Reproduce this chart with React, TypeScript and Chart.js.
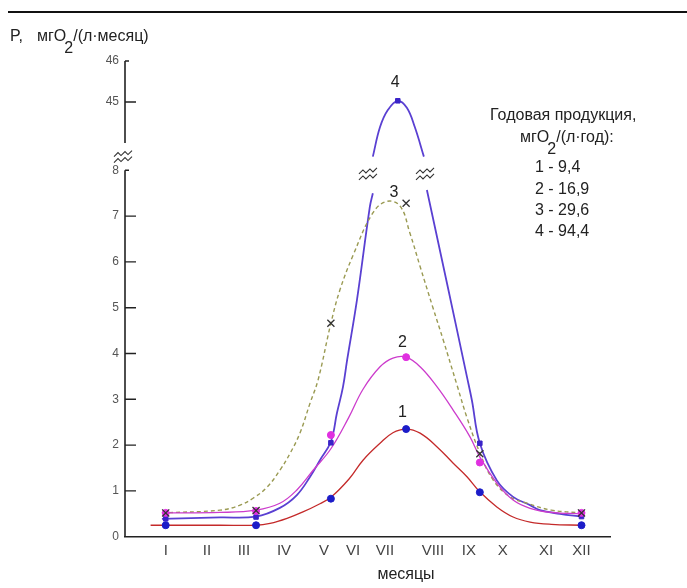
import React, { useEffect, useRef } from "react";
import { Chart, registerables } from "chart.js";

Chart.register(...registerables);

// ---------- data ----------
const monthLabels = ["I", "II", "III", "IV", "V", "VI", "VII", "VIII", "IX", "X", "XI", "XII"];
const monthTicks = [1, 2.09, 3.07, 4.13, 5.19, 5.96, 6.8, 8.07, 9.02, 9.92, 11.06, 12.0];
const yTickValues = [0, 1, 2, 3, 4, 5, 6, 7, 8, 45, 46];

const curve1Months = [0.6, 1.0, 2.44, 3.39, 3.76, 4.21, 4.63, 5.08, 5.37, 5.85, 6.22, 6.67, 7.01, 7.36, 7.73, 8.18, 8.6, 8.97, 9.31, 9.76, 10.19, 10.64, 11.2, 12.0];
const curve1Values = [0.25, 0.25, 0.25, 0.25, 0.29, 0.4, 0.54, 0.72, 0.86, 1.26, 1.67, 2.04, 2.27, 2.35, 2.26, 1.96, 1.61, 1.31, 0.98, 0.65, 0.43, 0.32, 0.27, 0.25];

const curve2Months = [0.9, 2.44, 3.39, 4.02, 4.47, 4.9, 5.37, 5.84, 6.22, 6.67, 7.01, 7.36, 7.73, 8.18, 8.6, 9.05, 9.31, 9.76, 10.19, 10.64, 11.2, 12.0];
const curve2Values = [0.52, 0.53, 0.58, 0.73, 1.02, 1.45, 1.92, 2.6, 3.22, 3.71, 3.9, 3.92, 3.71, 3.27, 2.77, 2.18, 1.74, 1.17, 0.8, 0.62, 0.53, 0.5];

const curve3Months = [0.9, 2.44, 2.97, 3.31, 3.68, 4.02, 4.29, 4.55, 4.82, 5.03, 5.37, 5.61, 5.96, 6.48, 6.85, 7.2, 7.46, 7.73, 8.07, 8.34, 8.71, 8.97, 9.31, 9.66, 10.11, 10.56, 11.2, 12.0];
const curve3Values = [0.52, 0.58, 0.69, 0.84, 1.08, 1.45, 1.82, 2.26, 2.92, 3.42, 4.66, 5.39, 6.15, 7.07, 7.32, 7.22, 6.63, 5.9, 5.0, 4.3, 3.3, 2.6, 1.83, 1.24, 0.87, 0.73, 0.58, 0.52];

// curve 4 is broken: lower part, gap, upper part (45 scale), gap, lower part
const curve4Months = [0.9, 2.44, 3.39, 4.02, 4.47, 4.82, 5.08, 5.37, 5.53, 5.69, 5.8, 6.06, 6.4, 6.48, 6.48, 6.48, 6.67, 6.88, 7.14, 7.38, 7.59, 7.83, 7.87, 7.91, 8.44, 8.97, 9.1, 9.31, 9.76, 10.19, 10.64, 10.9, 11.43, 12.0];
const curve4Values = [0.39, 0.42, 0.44, 0.63, 0.91, 1.31, 1.67, 2.08, 2.7, 3.27, 3.86, 5.17, 7.2, 7.5, null, 43.67, 44.39, 44.81, 45.03, 44.86, 44.39, 43.67, null, 7.57, 5.54, 3.49, 2.98, 2.04, 1.23, 0.87, 0.69, 0.58, 0.5, 0.44];

const markerMonths = [1.0, 3.39, 5.37, 7.36, 9.31, 12.0];
const marker1Values = [0.25, 0.25, 0.83, 2.35, 0.97, 0.25];
const marker2Values = [0.52, 0.56, 2.22, 3.92, 1.62, 0.52];
const marker3Values = [0.52, 0.57, 4.66, 7.28, 1.81, 0.52];
const marker4Months = [1.0, 3.39, 5.37, 7.14, 9.31, 12.0];
const marker4Values = [0.39, 0.43, 2.05, 45.03, 2.04, 0.44];

const legendTitle = "Годовая продукция,";
const legendItems = ["1 - 9,4", "2 - 16,9", "3 - 29,6", "4 - 94,4"];

// ---------- broken y axis mapping ----------
const LOWER_TOP = 8;
const UPPER_REF = 45;
const UPPER_REF_POS = 9.49;
const UPPER_UNIT = 0.896;
const toAxis = (v: number) => (v <= LOWER_TOP ? v : UPPER_REF_POS + (v - UPPER_REF) * UPPER_UNIT);

const pts = (months: number[], values: (number | null)[]) =>
  months.map((m, i) => ({ x: m, y: values[i] == null ? null : toAxis(values[i] as number) }));

const FONT = "'Liberation Sans', Arial, sans-serif";

const lineDs = (label: string, months: number[], values: (number | null)[], color: string, width: number, dash: number[] = []) => ({
  type: "line" as const,
  label,
  data: pts(months, values),
  borderColor: color,
  backgroundColor: color,
  borderWidth: width,
  borderDash: dash,
  pointRadius: 0,
  tension: 0.4,
  spanGaps: false,
  fill: false,
  order: 3,
});

const markerDs = (label: string, months: number[], values: number[], style: string, color: string, radius: number, bw: number, order: number) => ({
  type: "line" as const,
  label,
  data: pts(months, values),
  showLine: false,
  pointStyle: style,
  pointRadius: radius,
  pointBackgroundColor: color,
  pointBorderColor: color,
  pointBorderWidth: bw,
  order,
});

const decorPlugin = {
  id: "decor",
  afterDraw(chart: any) {
    const ctx: CanvasRenderingContext2D = chart.ctx;
    const xs = chart.scales.x;
    const ys = chart.scales.y;
    const X = (m: number) => xs.getPixelForValue(m);
    const Y = (v: number) => ys.getPixelForValue(toAxis(v));
    const YA = (a: number) => ys.getPixelForValue(a);
    ctx.save();

    // top rule
    ctx.strokeStyle = "#111";
    ctx.lineWidth = 2;
    ctx.beginPath();
    ctx.moveTo(8, 12);
    ctx.lineTo(chart.width, 12);
    ctx.stroke();

    // broken y axis
    const x0 = chart.chartArea.left;
    ctx.strokeStyle = "#222";
    ctx.lineWidth = 1.6;
    ctx.beginPath();
    ctx.moveTo(x0, Y(0));
    ctx.lineTo(x0, Y(8));
    ctx.moveTo(x0, Y(44));
    ctx.lineTo(x0, Y(46));
    ctx.stroke();
    ctx.lineWidth = 1.4;
    ctx.beginPath();
    for (const v of yTickValues) {
      if (v === 0) continue;
      const len = v === 8 || v === 46 ? 4 : 11;
      ctx.moveTo(x0, Y(v));
      ctx.lineTo(x0 + len, Y(v));
    }
    ctx.stroke();

    const drawBreak = (cx: number, cy: number) => {
      ctx.strokeStyle = "#333";
      ctx.lineWidth = 1.1;
      for (const dy of [-3, 3]) {
        ctx.beginPath();
        ctx.moveTo(cx - 9, cy + dy + 3);
        ctx.lineTo(cx - 5, cy + dy - 1);
        ctx.lineTo(cx - 2, cy + dy + 2);
        ctx.lineTo(cx + 2, cy + dy - 2);
        ctx.lineTo(cx + 5, cy + dy + 1);
        ctx.lineTo(cx + 9, cy + dy - 3);
        ctx.stroke();
      }
    };
    drawBreak(x0 - 2, YA(8.3));
    drawBreak(X(6.35), YA(7.92));
    drawBreak(X(7.86), YA(7.92));

    // texts
    ctx.fillStyle = "#222";
    ctx.textBaseline = "alphabetic";
    ctx.textAlign = "left";
    ctx.font = `16px ${FONT}`;
    const chem = (x: number, y: number, pre: string, sub: string, post: string) => {
      ctx.fillText(pre, x, y);
      let cx = x + ctx.measureText(pre).width - 2;
      ctx.fillText(sub, cx, y + 12);
      cx += ctx.measureText(sub).width;
      ctx.fillText(post, cx, y);
    };
    ctx.fillText("P,", 10, 41);
    chem(37, 41, "мгO", "2", "/(л·месяц)");

    ctx.fillText(legendTitle, 490, 120);
    chem(520, 142, "мгO", "2", "/(л·год):");
    ctx.textBaseline = "middle";
    legendItems.forEach((t, i) => ctx.fillText(t, 535, 168 + i * 21.3));

    // curve numbers
    ctx.textAlign = "center";
    ctx.fillText("4", X(7.07), YA(9.91));
    ctx.fillText("3", X(7.04), YA(7.52));
    ctx.fillText("2", X(7.26), YA(4.23));
    ctx.fillText("1", X(7.26), YA(2.7));

    // x axis title
    ctx.fillText("месяцы", 406, 575);
    ctx.restore();
  },
};

export default function App() {
  const ref = useRef<HTMLCanvasElement | null>(null);

  useEffect(() => {
    if (!ref.current) return;
    Chart.defaults.font.family = FONT;
    const chart = new Chart(ref.current, {
      type: "line",
      data: {
        datasets: [
          markerDs("m3", markerMonths, marker3Values, "crossRot", "#333", 5, 1.3, 0) as any,
          markerDs("m1", markerMonths, marker1Values, "circle", "#1c1cc8", 3.5, 1, 1) as any,
          markerDs("m2", markerMonths, marker2Values, "circle", "#e030e0", 3.5, 1, 1) as any,
          markerDs("m4", marker4Months, marker4Values, "rect", "#3a24c8", 3.2, 1, 1) as any,
          lineDs("1", curve1Months, curve1Values, "#c42a2a", 1.3) as any,
          lineDs("2", curve2Months, curve2Values, "#cc3ccc", 1.3) as any,
          lineDs("3", curve3Months, curve3Values, "#9a9a52", 1.4, [4, 3]) as any,
          lineDs("4", curve4Months, curve4Values, "#5a40d2", 1.8) as any,
        ],
      },
      options: {
        responsive: false,
        animation: false,
        devicePixelRatio: 1,
        layout: { padding: { left: 0, right: 77, top: 61, bottom: 0 } },
        plugins: { legend: { display: false }, tooltip: { enabled: false } },
        scales: {
          x: {
            type: "linear",
            min: -0.077,
            max: 12.754,
            grid: { display: false, drawTicks: false },
            border: { display: true, color: "#222", width: 1.6 },
            ticks: {
              padding: 5,
              color: "#444",
              font: { size: 15 },
              autoSkip: false,
              maxRotation: 0,
              minRotation: 0,
              callback: (_v: any, i: number) => monthLabels[i],
            },
            afterBuildTicks: (s: any) => {
              s.ticks = monthTicks.map((v) => ({ value: v }));
            },
            afterFit: (s: any) => {
              s.height = 51.3;
            },
          },
          y: {
            type: "linear",
            min: 0,
            max: toAxis(46),
            grid: { display: false, drawTicks: false },
            border: { display: false },
            ticks: {
              padding: 6,
              color: "#555",
              font: { size: 12 },
              autoSkip: false,
              callback: (_v: any, i: number) => String(yTickValues[i]),
            },
            afterBuildTicks: (s: any) => {
              s.ticks = yTickValues.map((v) => ({ value: toAxis(v) }));
            },
            afterFit: (s: any) => {
              s.width = 125;
            },
          },
        },
      } as any,
      plugins: [decorPlugin],
    });
    return () => chart.destroy();
  }, []);

  return (
    <div style={{ position: "absolute", left: 0, top: 0, width: 687, height: 588 }}>
      <canvas ref={ref} width={687} height={588} style={{ display: "block" }} />
    </div>
  );
}
